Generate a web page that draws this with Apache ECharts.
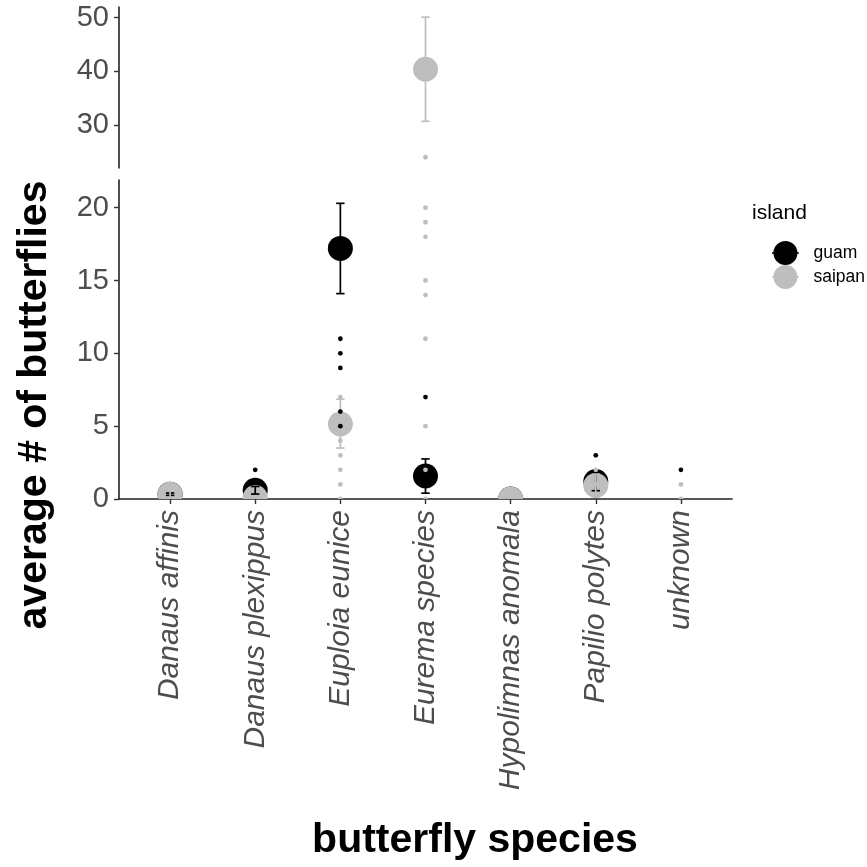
<!DOCTYPE html>
<html>
<head>
<meta charset="utf-8">
<title>average # of butterflies by species</title>
<script src="https://cdn.jsdelivr.net/npm/echarts@6/dist/echarts.min.js"></script>
<style>
  html, body { margin: 0; padding: 0; background: #ffffff; }
  #chart { width: 867px; height: 867px; }
</style>
</head>
<body>
<div id="chart"></div>
<script>
// Species on the x axis
const categories = ['Danaus affinis', 'Danaus plexippus', 'Euploia eunice', 'Eurema species',
                    'Hypolimnas anomala', 'Papilio polytes', 'unknown'];

// Mean count per species with lower / upper error limits (null = no summary)
const guamMean   = [0.33, 0.6, 17.2, 1.58, 0, 1.2, null];
const guamLow    = [0.25, 0.34, 14.1, 0.4, 0, 0.57, null];
const guamHigh   = [0.41, 0.86, 20.3, 2.75, 0, 1.83, null];
const saipanMean = [0.33, 0.1, 5.15, 40.4, 0, 0.93, null];
const saipanLow  = [0.1, 0.0, 3.5, 30.7, 0, 0.16, null];
const saipanHigh = [0.56, 0.2, 6.85, 50.1, 0, 1.7, null];

// Individual survey counts per species
const guamDots   = [[], [2], [11, 10, 9, 6, 5], [7], [], [3], [2]];
const saipanDots = [[1], [], [7, 4, 3, 2, 1, 0], [24, 20, 19, 18, 15, 14, 11, 5, 2, 0], [0], [2, 1], [1, 0]];

// Tick values of the two stacked y panels
const upperTicks = [30, 40, 50];
const lowerTicks = [0, 5, 10, 15, 20];
const xTicks = [0, 1, 2, 3, 4, 5, 6];

const GUAM = '#000000';
const SAIPAN = '#bebebe';
const FONT = '"Liberation Sans", Arial, Helvetica, sans-serif';

function meanData(mean) {
  const out = [];
  mean.forEach((v, i) => { if (v !== null) out.push([i, v]); });
  return out;
}
function barData(mean, low, high) {
  const out = [];
  mean.forEach((v, i) => { if (v !== null) out.push([i, low[i], high[i]]); });
  return out;
}
function dotData(dots) {
  const out = [];
  dots.forEach((vals, i) => vals.forEach(v => out.push([i, v])));
  return out;
}

function meanRender(color) {
  return function (params, api) {
    const p = api.coord([api.value(0), api.value(1)]);
    return { type: 'circle', shape: { cx: p[0], cy: p[1], r: 12.5 }, style: { fill: color } };
  };
}
function barRender(color) {
  return function (params, api) {
    const lo = api.coord([api.value(0), api.value(1)]);
    const hi = api.coord([api.value(0), api.value(2)]);
    const w = 4.2;
    const st = { stroke: color, lineWidth: 1.7 };
    return {
      type: 'group',
      children: [
        { type: 'line', shape: { x1: lo[0], y1: lo[1], x2: hi[0], y2: hi[1] }, style: st },
        { type: 'line', shape: { x1: lo[0] - w, y1: lo[1], x2: lo[0] + w, y2: lo[1] }, style: st },
        { type: 'line', shape: { x1: hi[0] - w, y1: hi[1], x2: hi[0] + w, y2: hi[1] }, style: st }
      ]
    };
  };
}
function dotRender(color) {
  return function (params, api) {
    const p = api.coord([api.value(0), api.value(1)]);
    return { type: 'circle', shape: { cx: p[0], cy: p[1], r: 2.4 }, style: { fill: color } };
  };
}

// Same layers in both panels; each panel clips to its own value range
const series = [];
[0, 1].forEach(g => {
  const base = { type: 'custom', clip: true, xAxisIndex: g, yAxisIndex: g, silent: true, animation: false };
  series.push(Object.assign({}, base, { name: 'guam', itemStyle: { color: GUAM },
    data: meanData(guamMean), renderItem: meanRender(GUAM) }));
  series.push(Object.assign({}, base, { name: 'saipan', itemStyle: { color: SAIPAN },
    data: meanData(saipanMean), renderItem: meanRender(SAIPAN) }));
  series.push(Object.assign({}, base, { name: 'guam', itemStyle: { color: GUAM },
    encode: { x: 0, y: [1, 2] }, data: barData(guamMean, guamLow, guamHigh), renderItem: barRender(GUAM) }));
  series.push(Object.assign({}, base, { name: 'saipan', itemStyle: { color: SAIPAN },
    encode: { x: 0, y: [1, 2] }, data: barData(saipanMean, saipanLow, saipanHigh), renderItem: barRender(SAIPAN) }));
  series.push(Object.assign({}, base, { name: 'guam', itemStyle: { color: GUAM },
    data: dotData(guamDots), renderItem: dotRender(GUAM) }));
  series.push(Object.assign({}, base, { name: 'saipan', itemStyle: { color: SAIPAN },
    data: dotData(saipanDots), renderItem: dotRender(SAIPAN) }));
});

const axisLine = { show: true, onZero: false, lineStyle: { color: '#222222', width: 1.6 } };
const axisTick = { show: true, length: 5, lineStyle: { color: '#333333', width: 1.4 } };
const tickLabel = { color: '#4d4d4d', fontSize: 29, fontFamily: FONT, margin: 10 };

const legendIcon = 'path://M1.5,12A12.5,12.5,0,1,1,26.5,12A12.5,12.5,0,1,1,1.5,12Z M0,11.2H28V12.8H0Z';

const option = {
  animation: false,
  backgroundColor: '#ffffff',
  grid: [
    { left: 119, right: 135, top: 7, height: 161 },
    { left: 119, right: 135, top: 180, height: 319 }
  ],
  xAxis: [
    { type: 'value', gridIndex: 0, min: -0.6, max: 6.6, show: false, splitLine: { show: false } },
    {
      type: 'value', gridIndex: 1, min: -0.6, max: 6.6,
      axisLine: axisLine,
      axisTick: Object.assign({}, axisTick, { customValues: xTicks }),
      axisLabel: Object.assign({}, tickLabel, {
        customValues: xTicks, rotate: 90, fontStyle: 'italic', fontSize: 30, margin: 11,
        formatter: v => categories[Math.round(v)]
      }),
      splitLine: { show: false }
    }
  ],
  yAxis: [
    {
      type: 'value', gridIndex: 0, min: 22, max: 52,
      axisLine: axisLine,
      axisTick: Object.assign({}, axisTick, { customValues: upperTicks }),
      axisLabel: Object.assign({}, tickLabel, { customValues: upperTicks }),
      splitLine: { show: false }
    },
    {
      type: 'value', gridIndex: 1, min: 0, max: 21.9,
      axisLine: axisLine,
      axisTick: Object.assign({}, axisTick, { customValues: lowerTicks }),
      axisLabel: Object.assign({}, tickLabel, { customValues: lowerTicks }),
      splitLine: { show: false }
    }
  ],
  legend: {
    orient: 'vertical',
    left: 767, top: 236,
    itemWidth: 28, itemHeight: 24, itemGap: 0,
    selectedMode: false,
    textStyle: { color: '#000000', fontSize: 17.5, fontFamily: FONT, padding: [0, 0, 0, 9] },
    data: [
      { name: 'guam', icon: legendIcon, itemStyle: { color: GUAM } },
      { name: 'saipan', icon: legendIcon, itemStyle: { color: SAIPAN } }
    ]
  },
  graphic: [
    {
      type: 'text', x: 35, y: 405, rotation: Math.PI / 2,
      style: { text: 'average # of butterflies', fill: '#000000', font: 'bold 41px ' + FONT,
               textAlign: 'center', textVerticalAlign: 'middle' }
    },
    {
      type: 'text', x: 475, y: 841,
      style: { text: 'butterfly species', fill: '#000000', font: 'bold 41px ' + FONT,
               textAlign: 'center', textVerticalAlign: 'middle' }
    },
    {
      type: 'text', x: 752, y: 213,
      style: { text: 'island', fill: '#000000', font: '21px ' + FONT,
               textAlign: 'left', textVerticalAlign: 'middle' }
    }
  ],
  series: series
};

const chart = echarts.init(document.getElementById('chart'), null, { renderer: 'canvas' });
chart.setOption(option);
</script>
</body>
</html>
